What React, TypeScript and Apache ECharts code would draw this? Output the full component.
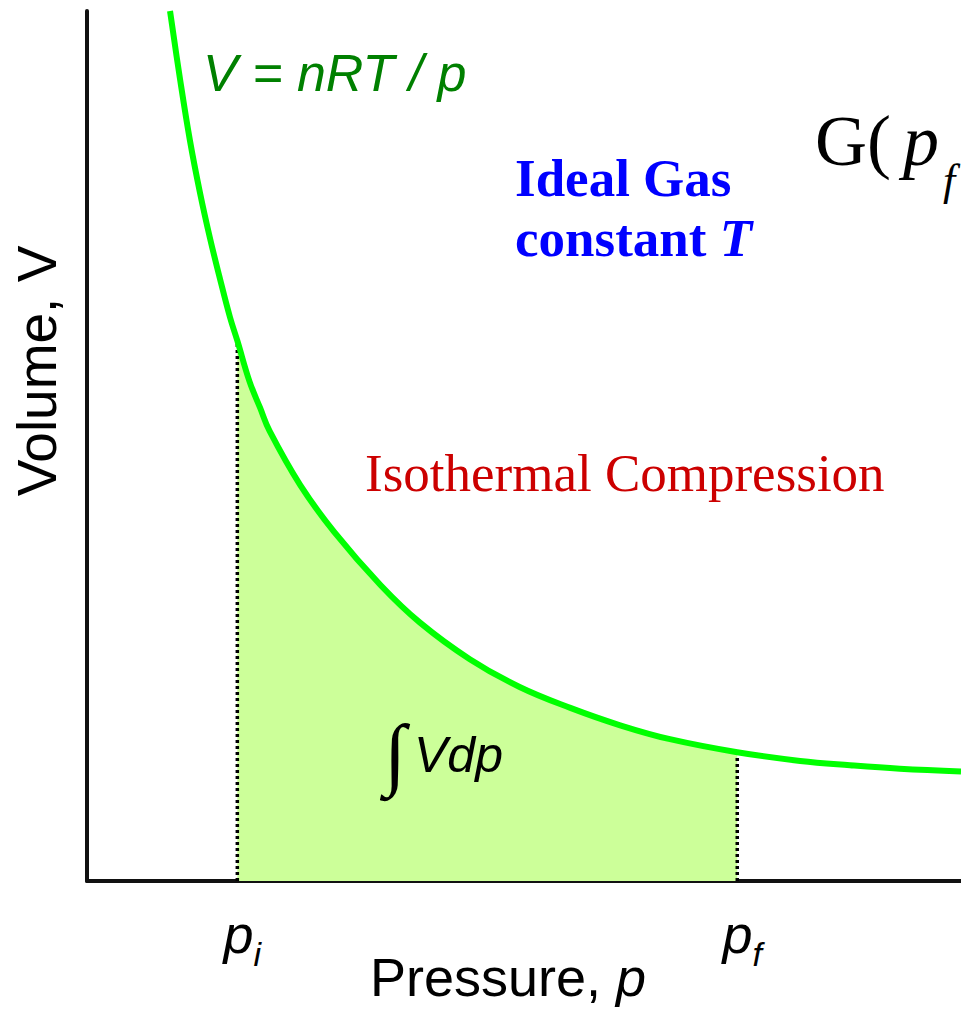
import React, { useEffect, useRef } from "react";
import * as echarts from "echarts";

// Isotherm V = nRT / p (arbitrary units: p 0..10, V 0..10)
const pressure = [0.95, 1.064, 1.178, 1.293, 1.407, 1.522, 1.636, 1.72, 1.86, 1.98, 2.09, 2.44, 2.83, 3.36, 3.81, 4.38, 4.95, 5.53, 6.1, 6.67, 7.44, 8.16, 8.73, 9.3, 10.0];
const volume = [10.0, 9.22, 8.51, 7.91, 7.39, 6.92, 6.48, 6.21, 5.74, 5.44, 5.17, 4.55, 4.01, 3.4, 2.97, 2.55, 2.23, 1.99, 1.79, 1.63, 1.48, 1.38, 1.33, 1.29, 1.26];
const pInitial = 1.72;
const pFinal = 7.44;
const tickLabels: Record<string, string> = { i: "i", f: "f" };

const SANS = "'Liberation Sans', Arial, sans-serif";
const SERIF = "'Liberation Serif', 'Times New Roman', serif";

export default function App() {
  const ref = useRef<HTMLDivElement>(null);
  useEffect(() => {
    if (!ref.current) return;
    const chart = echarts.init(ref.current, undefined, { renderer: "svg" });
    const curve = pressure.map((p, i) => [p, volume[i]]);
    const area = curve.filter(([p]) => p >= pInitial && p <= pFinal);
    const vAt = (p: number) => volume[pressure.indexOf(p)];

    chart.setOption({
      animation: false,
      backgroundColor: "#ffffff",
      grid: { left: 87, right: 0, top: 11, bottom: 130, containLabel: false, outerBoundsMode: "none" },
      xAxis: {
        type: "value",
        min: 0,
        max: 10,
        splitLine: { show: false },
        axisTick: { show: false },
        axisLine: { show: true, lineStyle: { color: "#111", width: 4 } },
        axisLabel: {
          customValues: [pInitial, pFinal],
          margin: 26,
          formatter: (v: number) => (v === pInitial ? `{p|p}{s|${tickLabels.i}}` : `{p|p}{s|${tickLabels.f}}`),
          rich: {
            p: { fontSize: 54, fontStyle: "italic", fontFamily: SANS, color: "#000", verticalAlign: "bottom", padding: [0, 0, 10, 10] },
            s: { fontSize: 34, fontStyle: "italic", fontFamily: SANS, color: "#000", verticalAlign: "bottom" },
          },
        },
      },
      yAxis: {
        type: "value",
        min: 0,
        max: 10,
        splitLine: { show: false },
        axisTick: { show: false },
        axisLabel: { show: false },
        axisLine: { show: true, lineStyle: { color: "#111", width: 4 } },
      },
      series: [
        {
          type: "line",
          data: area,
          smooth: 0.4,
          symbol: "none",
          lineStyle: { width: 0 },
          areaStyle: { color: "#ccff99", opacity: 1 },
          z: 1,
        },
        {
          type: "line",
          data: curve,
          smooth: 0.4,
          symbol: "none",
          lineStyle: { color: "#00ff00", width: 6 },
          z: 3,
        },
        {
          type: "line",
          data: [[pInitial, 0], [pInitial, vAt(pInitial)]],
          symbol: "none",
          lineStyle: { color: "#000", width: 3.5, type: [3, 3] },
          z: 2,
        },
        {
          type: "line",
          data: [[pFinal, 0], [pFinal, vAt(pFinal)]],
          symbol: "none",
          lineStyle: { color: "#000", width: 3.5, type: [3, 3] },
          z: 2,
        },
      ],
      graphic: [
        {
          type: "text", x: 203, y: 73, z: 100,
          style: { text: "V = nRT / p", fill: "#008000", fontSize: 52, fontStyle: "italic", fontFamily: SANS, verticalAlign: "middle" },
        },
        {
          type: "text", x: 515, y: 178, z: 100,
          style: { text: "Ideal Gas", fill: "#0000ff", fontSize: 53, fontWeight: "bold", fontFamily: SERIF, verticalAlign: "middle" },
        },
        {
          type: "text", x: 515, y: 238, z: 100,
          style: {
            text: "{a|constant }{b|T}", verticalAlign: "middle",
            rich: {
              a: { fill: "#0000ff", fontSize: 53, fontWeight: "bold", fontFamily: SERIF },
              b: { fill: "#0000ff", fontSize: 53, fontWeight: "bold", fontStyle: "italic", fontFamily: SERIF },
            },
          },
        },
        {
          type: "text", x: 365, y: 473, z: 100,
          style: { text: "Isothermal Compression", fill: "#cc0000", fontSize: 53, fontFamily: SERIF, verticalAlign: "middle" },
        },
        {
          type: "text", x: 815, y: 141, z: 100,
          style: { text: "G(", fill: "#000", fontSize: 72, fontFamily: SERIF, verticalAlign: "middle" },
        },
        {
          type: "text", x: 903, y: 141, z: 100,
          style: { text: "p", fill: "#000", fontSize: 72, fontStyle: "italic", fontFamily: SERIF, verticalAlign: "middle" },
        },
        {
          type: "text", x: 943, y: 180, z: 100,
          style: { text: "f", fill: "#000", fontSize: 44, fontStyle: "italic", fontFamily: SERIF, verticalAlign: "middle" },
        },
        {
          type: "text", x: 395, y: 753, z: 100,
          style: { text: "∫", fill: "#000", fontSize: 80, fontFamily: SERIF, align: "center", verticalAlign: "middle" },
        },
        {
          type: "text", x: 414, y: 755, z: 100,
          style: { text: "Vdp", fill: "#000", fontSize: 50, fontStyle: "italic", fontFamily: SANS, verticalAlign: "middle" },
        },
        {
          type: "text", x: 370, y: 977, z: 100,
          style: {
            text: "{a|Pressure, }{b|p}", verticalAlign: "middle",
            rich: {
              a: { fill: "#000", fontSize: 54, fontFamily: SANS },
              b: { fill: "#000", fontSize: 54, fontStyle: "italic", fontFamily: SANS },
            },
          },
        },
        {
          type: "text", x: 37, y: 371, z: 100, rotation: Math.PI / 2,
          style: { text: "Volume, V", fill: "#000", fontSize: 55, fontFamily: SANS, align: "center", verticalAlign: "middle" },
        },
      ],
    });
    return () => chart.dispose();
  }, []);
  return <div ref={ref} style={{ position: "absolute", left: 0, top: 0, width: 961, height: 1011 }} />;
}
